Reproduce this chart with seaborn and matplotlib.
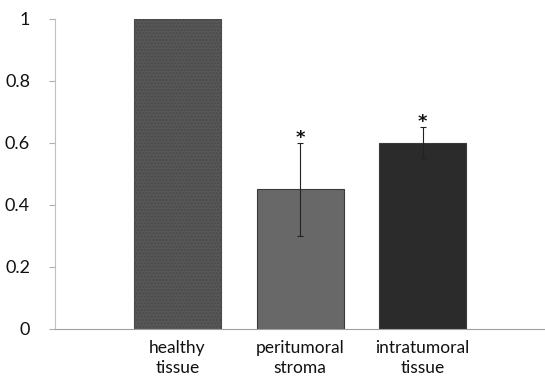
import pandas as pd
import matplotlib.pyplot as plt
import seaborn as sns

categories = ["healthy\ntissue", "peritumoral\nstroma", "intratumoral\ntissue"]
values = [1.0, 0.45, 0.60]
errors = [0.0, 0.15, 0.05]
marks = ["", "*", "*"]
colors = ["#575757", "#686868", "#2b2b2b"]
yticks = [0, 0.2, 0.4, 0.6, 0.8, 1]
ytick_labels = ["0", "0.2", "0.4", "0.6", "0.8", "1"]

df = pd.DataFrame({"group": categories, "value": values, "err": errors})

sns.set_style("white")
plt.rcParams['font.family'] = ['Lato', 'DejaVu Sans']

fig = plt.figure(figsize=(5.45, 3.78), dpi=100)
ax = fig.add_axes([0.101, 0.130, 0.899, 0.820])

sns.barplot(data=df, x="group", y="value", hue="group", palette=colors,
            width=0.71, legend=False, ax=ax, edgecolor="#3a3a3a", linewidth=0.8)

# dotted texture on the first bar
plt.rcParams['hatch.color'] = "#7a7a7a"
ax.patches[0].set_hatch(".....")
ax.patches[0].set_edgecolor("#4a4a4a")

# error bars and significance marks
for i, (v, e, m) in enumerate(zip(values, errors, marks)):
    if e > 0:
        ax.errorbar(i, v, yerr=e, fmt="none", ecolor="#222222", elinewidth=0.8,
                    capsize=2.5, capthick=0.8)
    if m:
        ax.text(i, v + e - 0.012, m, ha="center", va="bottom", fontsize=13,
                fontweight="bold", color="#111111", family="DejaVu Sans")

ax.set_xlim(-1, 3)
ax.set_ylim(0, 1)
ax.set_yticks(yticks)
ax.set_yticklabels(ytick_labels)
ax.set_xlabel("")
ax.set_ylabel("")
ax.tick_params(axis="y", length=4, color="#b0b0b0", labelsize=13, pad=14,
               direction="out", left=True, labelcolor="#111111")
ax.tick_params(axis="x", length=0, labelsize=12.5, pad=8, labelcolor="#111111")
for lbl in ax.get_yticklabels():
    lbl.set_horizontalalignment("right")
for lbl in ax.get_xticklabels():
    lbl.set_linespacing(1.3)

for s in ["top", "right"]:
    ax.spines[s].set_visible(False)
ax.spines["left"].set_color("#c0c0c0")
ax.spines["bottom"].set_color("#a0a0a0")
ax.spines["left"].set_linewidth(0.8)
ax.spines["bottom"].set_linewidth(0.8)

fig.savefig("out.png", dpi=100)
